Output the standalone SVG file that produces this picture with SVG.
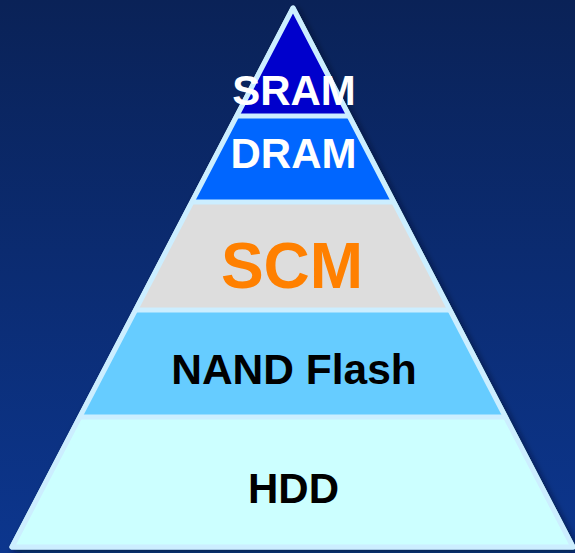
<svg xmlns="http://www.w3.org/2000/svg" width="575" height="553" viewBox="0 0 575 553">
  <defs>
    <linearGradient id="bg" x1="0" y1="0" x2="0" y2="1">
      <stop offset="0" stop-color="#0A2257"/>
      <stop offset="1" stop-color="#0C368E"/>
    </linearGradient>
    <clipPath id="tri">
      <polygon points="293,8 12,547 573,547"/>
    </clipPath>
    <filter id="shadow" x="-10%" y="-10%" width="120%" height="120%">
      <feDropShadow dx="3" dy="3" stdDeviation="3" flood-color="#000820" flood-opacity="0.6"/>
    </filter>
    <style>
      .lbl { font-family: "Liberation Sans", Arial, sans-serif; font-weight: bold; text-anchor: middle; }
      .sep { stroke: #CCEEFF; stroke-width: 5; }
    </style>
  </defs>
  <rect x="0" y="0" width="575" height="553" fill="url(#bg)"/>
  <polygon points="293,8 12,547 573,547" fill="#CCFFFF" stroke="#CCEEFF" stroke-width="5" stroke-linejoin="round" filter="url(#shadow)"/>
  <g clip-path="url(#tri)">
    <g id="sram">
      <rect x="0" y="0" width="575" height="116" fill="#0000CC"/>
    </g>
    <g id="dram">
      <rect x="0" y="116" width="575" height="86" fill="#0066FF"/>
    </g>
    <g id="scm">
      <rect x="0" y="202" width="575" height="108" fill="#DDDDDD"/>
    </g>
    <g id="nand">
      <rect x="0" y="310" width="575" height="107" fill="#66CCFF"/>
    </g>
    <g id="hdd">
      <rect x="0" y="417" width="575" height="136" fill="#CCFFFF"/>
    </g>
    <g id="connectors">
      <line class="sep" x1="0" y1="116" x2="575" y2="116"/>
      <line class="sep" x1="0" y1="202" x2="575" y2="202"/>
      <line class="sep" x1="0" y1="310" x2="575" y2="310"/>
      <line class="sep" x1="0" y1="417" x2="575" y2="417"/>
    </g>
  </g>
  <polygon points="293,8 12,547 573,547" fill="none" stroke="#CCEEFF" stroke-width="5" stroke-linejoin="round"/>
  <text class="lbl" x="294" y="105" font-size="42" fill="#FFFFFF">SRAM</text>
  <text class="lbl" x="293.5" y="168" font-size="42" fill="#FFFFFF">DRAM</text>
  <text class="lbl" x="292" y="288" font-size="64" fill="#FF8000">SCM</text>
  <text class="lbl" x="294" y="384" font-size="42.5" fill="#000000">NAND Flash</text>
  <text class="lbl" x="293.5" y="503" font-size="42" fill="#000000">HDD</text>
</svg>
